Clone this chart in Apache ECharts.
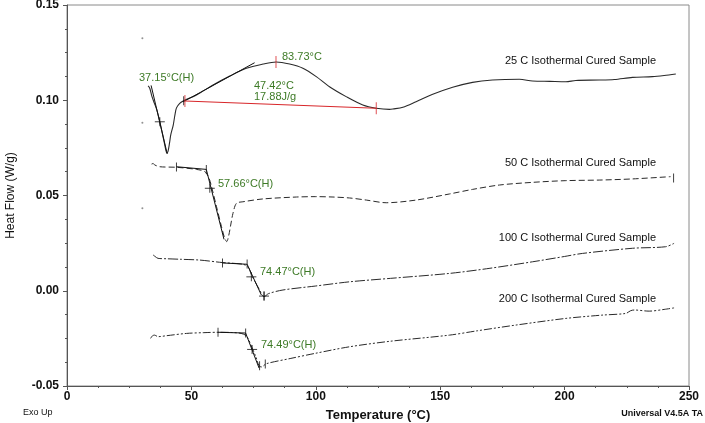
<!DOCTYPE html>
<html>
<head>
<meta charset="utf-8">
<script src="https://cdn.jsdelivr.net/npm/echarts@6/dist/echarts.min.js"></script>
<style>
html,body{margin:0;padding:0;background:#fff;}
#chart{width:705px;height:423px;}
</style>
</head>
<body>
<div id="chart"></div>
<script>
// ---- Data (Temperature °C, Heat Flow W/g) ----
var xTicks = [0, 50, 100, 150, 200, 250];
var yTicks = [-0.05, 0.00, 0.05, 0.10, 0.15];

var curve25 = [[32.6,0.1075],[33.3,0.1062],[34.1,0.1022],[35.1,0.0985],[36.1,0.0949],[37.3,0.0887],[38.9,0.0791],[39.7,0.0739],[40.1,0.0723],[40.6,0.0732],[41.2,0.0775],[41.7,0.0818],[42.7,0.0870],[43.4,0.0925],[44.0,0.0960],[45.3,0.0984],[46.7,0.0996],[52.05,0.1028],[58.7,0.1080],[65.4,0.1127],[72.1,0.1168],[78.8,0.1190],[84.1,0.1201],[89.5,0.1190],[94.8,0.1168],[100.2,0.1124],[105.5,0.1071],[112.2,0.1019],[118.9,0.0975],[124.3,0.0958],[129.6,0.0952],[131,0.0954],[135,0.0963],[140.3,0.0992],[147,0.1031],[155,0.1068],[163,0.1094],[171,0.1106],[181.8,0.1110],[187.1,0.1101],[194,0.1099],[200.5,0.1097],[204.5,0.1104],[213.9,0.1106],[220,0.1109],[227.3,0.1120],[235.3,0.1124],[240,0.1130],[244.7,0.1138]];

var curve50 = [[34.0,0.0665],[34.6,0.0668],[35.3,0.0660],[37.3,0.0651],[44.0,0.0648],[52.0,0.0637],[55.4,0.0625],[57.1,0.0590],[58.1,0.0546],[60.1,0.0441],[62.1,0.0336],[63.4,0.0275],[64.2,0.0258],[65.0,0.0290],[65.8,0.0345],[66.7,0.0406],[68.1,0.0459],[70.7,0.0467],[78.8,0.0482],[92.2,0.0492],[100,0.0494],[106.9,0.0492],[113.6,0.0487],[120.3,0.0476],[128.3,0.0462],[140.3,0.0476],[153.7,0.0508],[163,0.0532],[173.8,0.0555],[187.1,0.0569],[200.5,0.0578],[213.9,0.0581],[227.3,0.0587],[242.6,0.0599]];

var curve100 = [[34.6,0.0188],[35.4,0.0180],[36.6,0.0170],[40,0.0168],[46,0.0165],[53.4,0.0161],[62.5,0.0148],[68,0.0143],[71,0.0138],[72.8,0.0125],[74.1,0.0085],[75.5,0.0050],[77.4,0.0004],[78.5,-0.0025],[79.2,-0.0031],[81,-0.0015],[86.8,0.0004],[100,0.0025],[113.6,0.0047],[130,0.0065],[153.7,0.0091],[170,0.0118],[187.1,0.0152],[200,0.0180],[207.2,0.0196],[227.3,0.0223],[240.6,0.0231],[244,0.0249]];

var curve200 = [[33.6,-0.0250],[34.4,-0.0236],[35.2,-0.0233],[36.6,-0.0241],[40,-0.0236],[48,-0.0224],[55,-0.0220],[60.7,-0.0218],[66,-0.0219],[70,-0.0224],[72.2,-0.0238],[74.4,-0.0300],[76.0,-0.0350],[77.2,-0.0394],[78.2,-0.0400],[80.1,-0.0383],[90,-0.0355],[100,-0.0328],[113.6,-0.0294],[130,-0.0265],[153.7,-0.0233],[165,-0.0210],[180.5,-0.0180],[200.6,-0.0145],[215,-0.0128],[224.6,-0.0119],[226.5,-0.0105],[228,-0.0101],[234,-0.0107],[240,-0.0098],[244,-0.0090]];

// analysis constructions
var tangents = [
  [[33.8,0.1078],[40.3,0.0718]],
  [[46.7,0.0992],[75.4,0.1197]],
  [[44.0,0.0651],[56.0,0.0637]],
  [[56.0,0.0637],[63.1,0.0270]],
  [[62.5,0.0146],[72.4,0.0139]],
  [[72.4,0.0139],[78.1,-0.0022]],
  [[60.7,-0.0218],[71.8,-0.0222]],
  [[71.8,-0.0222],[77.2,-0.0406]]
];
var redBaseline = [[47.4,0.0996],[124.3,0.0958]];
var crossPts = [[37.3,0.0887],[57.4,0.0538],[74.1,0.0073],[74.4,-0.0308],[79.2,-0.0028]];
var tickPts = [[46.9,0.0998],[44.0,0.0650],[56.0,0.0637],[62.5,0.0146],[72.4,0.0140],[79.2,-0.0028],[60.7,-0.0218],[71.8,-0.0222],[77.4,-0.0394],[79.7,-0.0385],[243.8,0.0592]];
var redTickPts = [[47.4,0.0996],[84.0,0.1201],[124.3,0.0958]];
var strayDots = [[30.3,0.1325],[30.3,0.0882],[30.3,0.0433]];

var sampleLabels = ['25 C Isothermal Cured Sample','50 C Isothermal Cured Sample','100 C Isothermal Cured Sample','200 C Isothermal Cured Sample'];
var annoTexts = ['37.15°C(H)','83.73°C','47.42°C','17.88J/g','57.66°C(H)','74.47°C(H)','74.49°C(H)'];

// ---- Chart ----
var FONT = 'Liberation Sans, Arial, sans-serif';
var LINE = '#2a2a2a';
var GREEN = '#3d7a26';
var chart = echarts.init(document.getElementById('chart'), null, {renderer:'canvas'});

var series = [];
function curve(data, type, w) {
  series.push({type:'line', data:data, showSymbol:false, symbol:'none', smooth:0.3,
    lineStyle:{color:LINE, width:w, type:type}, silent:true, z:3});
}
curve(curve25, 'solid', 1.1);
curve(curve50, [6,3], 1);
curve(curve100, [10,2,2,2], 1);
curve(curve200, [8,2,2,2,2,2], 1);
tangents.forEach(function(seg){
  series.push({type:'line', data:seg, showSymbol:false, symbol:'none',
    lineStyle:{color:'#111', width:1}, silent:true, z:4});
});
series.push({type:'line', data:redBaseline, showSymbol:false, symbol:'none',
  lineStyle:{color:'#d8262a', width:1}, silent:true, z:4});
series.push({type:'scatter', data:crossPts, symbol:'rect', symbolSize:[10,1], itemStyle:{color:'#111'}, silent:true, z:5});
series.push({type:'scatter', data:crossPts, symbol:'rect', symbolSize:[1,9], itemStyle:{color:'#111'}, silent:true, z:5});
series.push({type:'scatter', data:tickPts, symbol:'rect', symbolSize:[1,9], itemStyle:{color:'#111'}, silent:true, z:5});
series.push({type:'scatter', data:redTickPts, symbol:'rect', symbolSize:[1,12], itemStyle:{color:'#d8262a'}, silent:true, z:6});
series.push({type:'scatter', data:strayDots, symbol:'circle', symbolSize:2, itemStyle:{color:'#777'}, silent:true, z:5});

var txt = function(x, y, s, opt) {
  return Object.assign({type:'text', x:x, y:y, silent:true,
    style:Object.assign({text:s, font:'11px ' + FONT, fill:'#111', textVerticalAlign:'middle'}, opt||{})});
};
var graphics = [
  txt(656, 60.5, sampleLabels[0], {textAlign:'right'}),
  txt(656, 162.5, sampleLabels[1], {textAlign:'right'}),
  txt(656, 237.5, sampleLabels[2], {textAlign:'right'}),
  txt(656, 298.5, sampleLabels[3], {textAlign:'right'}),
  txt(139, 77.5, annoTexts[0], {fill:GREEN}),
  txt(282, 57, annoTexts[1], {fill:GREEN}),
  txt(254, 85.5, annoTexts[2], {fill:GREEN}),
  txt(254, 96.5, annoTexts[3], {fill:GREEN}),
  txt(218, 183.5, annoTexts[4], {fill:GREEN}),
  txt(260, 272, annoTexts[5], {fill:GREEN}),
  txt(261, 345, annoTexts[6], {fill:GREEN}),
  txt(23, 412.5, 'Exo Up', {font:'9px ' + FONT}),
  txt(703, 413.5, 'Universal V4.5A TA', {textAlign:'right', font:'bold 9px ' + FONT})
];

chart.setOption({
  animation:false,
  backgroundColor:'#fff',
  grid:{left:67, right:16, top:5, bottom:37, containLabel:false, outerBoundsMode:'none',
    show:true, borderColor:'#8a8a8a', borderWidth:1, backgroundColor:'transparent'},
  xAxis:{type:'value', min:xTicks[0], max:xTicks[xTicks.length-1], interval:50,
    name:'Temperature (°C)', nameLocation:'middle', nameGap:23,
    nameTextStyle:{fontFamily:FONT, fontSize:13, fontWeight:'bold', color:'#111'},
    axisLine:{show:true, onZero:false, lineStyle:{color:'#555', width:1}},
    axisTick:{show:true, length:4, lineStyle:{color:'#555'}},
    minorTick:{show:true, splitNumber:4, length:2, lineStyle:{color:'#555'}},
    splitLine:{show:false},
    axisLabel:{fontFamily:FONT, fontSize:12, fontWeight:'bold', color:'#111', margin:5}},
  yAxis:{type:'value', min:yTicks[0], max:yTicks[yTicks.length-1], interval:0.05,
    name:'Heat Flow (W/g)', nameLocation:'middle', nameGap:50,
    nameTextStyle:{fontFamily:FONT, fontSize:12, color:'#111'},
    axisLine:{show:true, onZero:false, lineStyle:{color:'#555', width:1}},
    axisTick:{show:true, length:4, lineStyle:{color:'#555'}},
    minorTick:{show:true, splitNumber:4, length:2, lineStyle:{color:'#555'}},
    splitLine:{show:false},
    axisLabel:{fontFamily:FONT, fontSize:12, fontWeight:'bold', color:'#111', margin:8,
      formatter:function(v){ return v.toFixed(2); }}},
  graphic:graphics,
  series:series
});
</script>
</body>
</html>
